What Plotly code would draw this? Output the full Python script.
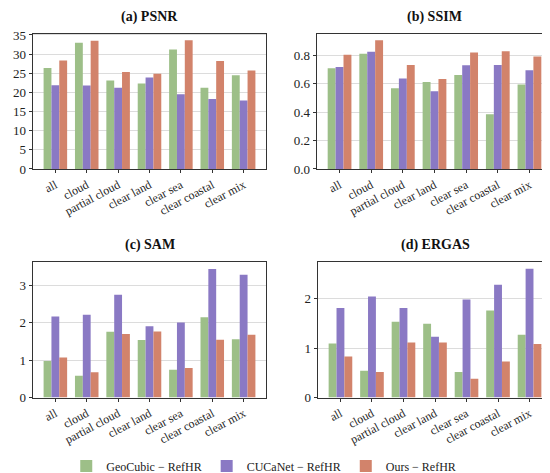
import plotly.graph_objects as go

categories = ["all", "cloud", "partial cloud", "clear land", "clear sea", "clear coastal", "clear mix"]
series_names = ["GeoCubic − RefHR", "CUCaNet − RefHR", "Ours − RefHR"]
colors = ["#9dbf88", "#8a79c4", "#d2836b"]

psnr_geo = [26.4, 33.0, 23.1, 22.3, 31.2, 21.2, 24.5]
psnr_cuc = [21.9, 21.8, 21.2, 23.9, 19.5, 18.3, 17.9]
psnr_our = [28.35, 33.5, 25.3, 24.9, 33.6, 28.2, 25.7]

ssim_geo = [0.709, 0.812, 0.569, 0.613, 0.662, 0.385, 0.595]
ssim_cuc = [0.718, 0.826, 0.637, 0.548, 0.730, 0.732, 0.695]
ssim_our = [0.805, 0.907, 0.732, 0.634, 0.821, 0.830, 0.793]

sam_geo = [0.976, 0.586, 1.76, 1.54, 0.745, 2.15, 1.56]
sam_cuc = [2.17, 2.22, 2.75, 1.91, 2.01, 3.44, 3.29]
sam_our = [1.07, 0.68, 1.70, 1.77, 0.79, 1.55, 1.68]

ergas_geo = [1.09, 0.54, 1.53, 1.49, 0.515, 1.76, 1.27]
ergas_cuc = [1.81, 2.04, 1.81, 1.23, 1.98, 2.28, 2.60]
ergas_our = [0.83, 0.515, 1.11, 1.11, 0.38, 0.73, 1.08]

panels = [
    ("(a) PSNR", [psnr_geo, psnr_cuc, psnr_our], [0, 5, 10, 15, 20, 25, 30, 35], [0, 35.3]),
    ("(b) SSIM", [ssim_geo, ssim_cuc, ssim_our], [0.0, 0.2, 0.4, 0.6, 0.8], [0, 0.952]),
    ("(c) SAM", [sam_geo, sam_cuc, sam_our], [0, 1, 2, 3], [0, 3.62]),
    ("(d) ERGAS", [ergas_geo, ergas_cuc, ergas_our], [0, 1, 2], [0, 2.73]),
]

W, H = 550, 473
xdoms = [[25 / W, 258 / W], [309 / W, 544 / W], [25 / W, 258 / W], [310 / W, 544 / W]]
ydoms = [[1 - 162 / H, 1 - 26 / H], [1 - 162 / H, 1 - 26 / H],
         [1 - 392 / H, 1 - 256 / H], [1 - 392 / H, 1 - 256 / H]]

FONT = "Liberation Serif"
fig = go.Figure()
layout = {}
annotations = []
for i, (title, data, ticks, yr) in enumerate(panels):
    xa = "x" if i == 0 else f"x{i+1}"
    ya = "y" if i == 0 else f"y{i+1}"
    for j, vals in enumerate(data):
        fig.add_trace(go.Bar(
            x=list(range(len(categories))), y=vals, name=series_names[j],
            marker=dict(color=colors[j], line=dict(width=0)),
            xaxis=xa, yaxis=ya, showlegend=(i == 0), offsetgroup=str(j),
        ))
    fmt = ".1f" if i == 1 else ""
    layout[f"xaxis{'' if i == 0 else i+1}"] = dict(
        domain=xdoms[i], anchor=ya, range=[-0.7125, 6.7125],
        tickmode="array", tickvals=list(range(len(categories))), ticktext=categories,
        tickangle=-28, ticks="outside", ticklen=3.5, tickcolor="#333",
        showline=True, linecolor="#333", linewidth=1, mirror=True,
        showgrid=False, zeroline=False, automargin=False,
        tickfont=dict(family=FONT, size=12, color="#222"),
    )
    layout[f"yaxis{'' if i == 0 else i+1}"] = dict(
        domain=ydoms[i], anchor=xa, range=yr,
        tickmode="array", tickvals=ticks, tickformat=fmt,
        ticks="outside", ticklen=3.5, tickcolor="#333",
        showline=True, linecolor="#333", linewidth=1, mirror=True,
        showgrid=True, gridcolor="#dcdcdc", gridwidth=1, zeroline=False, automargin=False,
        tickfont=dict(family=FONT, size=13, color="#222"),
    )
    annotations.append(dict(
        text=f"<b>{title}</b>", xref="paper", yref="paper",
        x=(xdoms[i][0] + xdoms[i][1]) / 2, y=ydoms[i][1] + 7 / H,
        xanchor="center", yanchor="bottom", showarrow=False,
        font=dict(family=FONT, size=14, color="#111"),
    ))

fig.update_layout(
    **layout,
    annotations=annotations,
    width=W, height=H,
    margin=dict(l=0, r=0, t=0, b=0),
    paper_bgcolor="white", plot_bgcolor="white",
    barmode="group", bargap=0.25, bargroupgap=0,
    legend=dict(orientation="h", x=0.465, xanchor="center", y=1 - 461 / H, yanchor="middle",
                font=dict(family=FONT, size=12, color="#222"), itemwidth=30,
                traceorder="normal"),
    font=dict(family=FONT),
)

fig.write_html("out.html")
